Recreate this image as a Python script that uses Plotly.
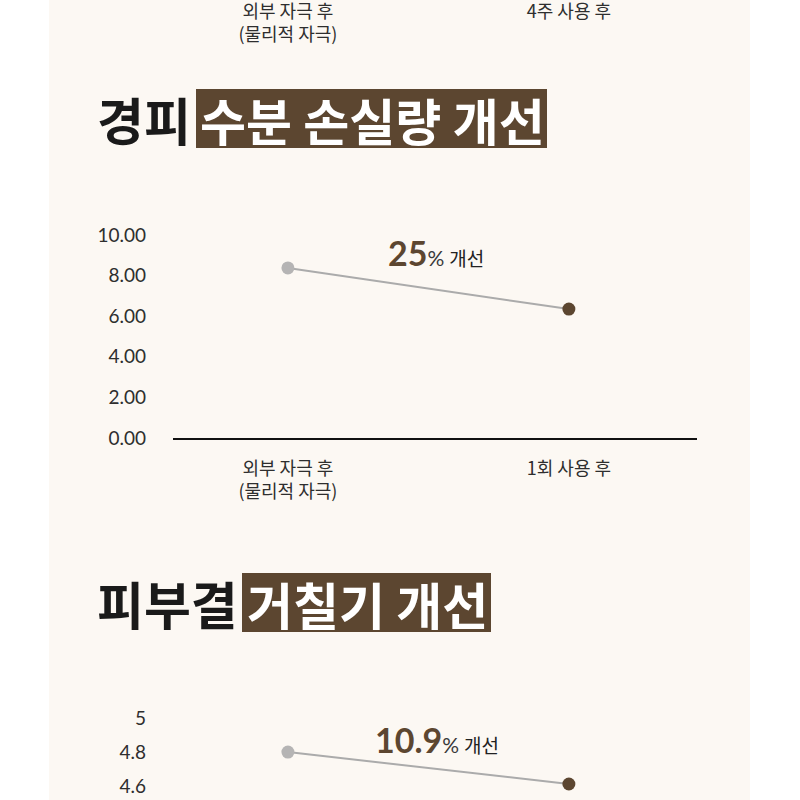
import plotly.graph_objects as go

# ---------------- data ----------------
top_categories = ["외부 자극 후<br>(물리적 자극)", "4주 사용 후"]

tewl_categories = ["외부 자극 후<br>(물리적 자극)", "1회 사용 후"]
tewl_values = [8.38, 6.35]
tewl_ticks = [0, 2, 4, 6, 8, 10]
tewl_ticktext = ["0.00", "2.00", "4.00", "6.00", "8.00", "10.00"]
tewl_title_plain = "경피"
tewl_title_box = "수분 손실량 개선"
tewl_pct = "25"

rough_categories = ["외부 자극 후<br>(물리적 자극)", "1회 사용 후"]
rough_values = [4.80, 4.612]
rough_ticks = [4.4, 4.6, 4.8, 5.0]
rough_ticktext = ["4.4", "4.6", "4.8", "5"]
rough_title_plain = "피부결"
rough_title_box = "거칠기 개선"
rough_pct = "10.9"

# ---------------- style ----------------
W, H = 800, 800
CREAM = "#FCF8F3"
BROWN = "#5C4630"
GRAY_PT = "#B5B4B4"
GRAY_LN = "#ABABAB"
TXT = "#2E2E2E"
KFONT = "Noto Sans CJK KR"
NFONT = "Lato, Noto Sans CJK KR"

def py(p):  # pixel (from top) -> paper y
    return 1 - p / H

def px(p):
    return p / W

x_dom = [px(173), px(697)]
x_rng = [-0.409, 1.456]

fig = go.Figure()

fig.add_trace(go.Scatter(
    x=tewl_categories, y=tewl_values, mode="lines+markers",
    line=dict(color=GRAY_LN, width=2),
    marker=dict(size=13, color=[GRAY_PT, BROWN]),
    xaxis="x", yaxis="y", cliponaxis=False, hoverinfo="skip", showlegend=False))

fig.add_trace(go.Scatter(
    x=rough_categories, y=rough_values, mode="lines+markers",
    line=dict(color=GRAY_LN, width=2),
    marker=dict(size=13, color=[GRAY_PT, BROWN]),
    xaxis="x2", yaxis="y2", cliponaxis=False, hoverinfo="skip", showlegend=False))

fig.add_trace(go.Scatter(x=top_categories, y=[None, None], mode="markers",
                         xaxis="x3", yaxis="y3", showlegend=False, hoverinfo="skip"))

tickfont_x = dict(family=KFONT, size=18, color=TXT)
tickfont_y = dict(family=NFONT, size=19, color=TXT)

common = dict(showgrid=False, zeroline=False, automargin=False, fixedrange=True, ticks="")

fig.update_layout(
    width=W, height=H, autosize=False,
    margin=dict(l=0, r=0, t=0, b=0, pad=0),
    paper_bgcolor="white", plot_bgcolor="rgba(0,0,0,0)",
    showlegend=False,
    xaxis=dict(domain=x_dom, range=x_rng, anchor="y", showline=True, linecolor="#111111",
               linewidth=2, tickfont=tickfont_x, ticklabelstandoff=13, **common),
    yaxis=dict(domain=[py(438), py(235)], range=[0, 10], anchor="free", position=px(146),
               showline=False, tickmode="array", tickvals=tewl_ticks, ticktext=tewl_ticktext,
               tickfont=tickfont_y, **common),
    xaxis2=dict(domain=x_dom, range=x_rng, anchor="y2", showline=False,
                showticklabels=False, **common),
    yaxis2=dict(domain=[0, py(700)], range=[4.518, 5.106], anchor="free", position=px(146),
                showline=False, tickmode="array", tickvals=rough_ticks,
                ticktext=rough_ticktext, tickfont=tickfont_y, **common),
    xaxis3=dict(domain=x_dom, range=x_rng, anchor="y3", showline=False,
                tickfont=tickfont_x, ticklabelstandoff=-2, **common),
    yaxis3=dict(domain=[0.999, 1.0], range=[0, 1], anchor="x3", visible=False, **common),
)

fig.add_shape(type="rect", xref="paper", yref="paper", x0=px(49), x1=px(750), y0=0, y1=1,
              fillcolor=CREAM, line_width=0, layer="below")
fig.add_shape(type="rect", xref="paper", yref="paper", x0=px(196), x1=px(547),
              y0=py(148), y1=py(89), fillcolor=BROWN, line_width=0, layer="below")
fig.add_shape(type="rect", xref="paper", yref="paper", x0=px(242), x1=px(491),
              y0=py(632), y1=py(573), fillcolor=BROWN, line_width=0, layer="below")

def title(plain, boxed, x_plain, box_cx, cy):
    fig.add_annotation(xref="paper", yref="paper", x=px(x_plain), y=py(cy), xanchor="left",
                       yanchor="middle", showarrow=False, text="<b>" + plain + "</b>",
                       font=dict(family=KFONT, size=51, color="#1A1A1A", weight=900))
    fig.add_annotation(xref="paper", yref="paper", x=px(box_cx), y=py(cy), xanchor="center",
                       yanchor="middle", showarrow=False, text="<b>" + boxed + "</b>",
                       font=dict(family=KFONT, size=50, color="white", weight=900))

title(tewl_title_plain, tewl_title_box, 95, 372, 119)
title(rough_title_plain, rough_title_box, 95, 367, 603)

def pct(value, x_left, cy):
    fig.add_annotation(
        xref="paper", yref="paper", x=px(x_left), y=py(cy), xanchor="left", yanchor="middle",
        showarrow=False,
        text=("<b><span style='font-size:34px;color:%s'>%s</span></b>"
              "<span style='font-size:21px;color:#3A3A3A'>%%</span>"
              "<span style='font-size:19px;color:#222222'> 개선</span>") % (BROWN, value),
        font=dict(family=NFONT, size=19, color=TXT))

pct(tewl_pct, 386, 253)
pct(rough_pct, 373, 739)

post = (
    "document.documentElement.style.margin='0';"
    "document.body.style.margin='0';document.body.style.padding='0';"
    "document.documentElement.style.overflow='hidden';document.body.style.overflow='hidden';"
    "var gd=document.getElementById('{plot_id}');"
    "gd.style.position='fixed';gd.style.top='0px';gd.style.left='0px';"
)

fig.write_html("out.html", config={"displayModeBar": False}, post_script=post)
